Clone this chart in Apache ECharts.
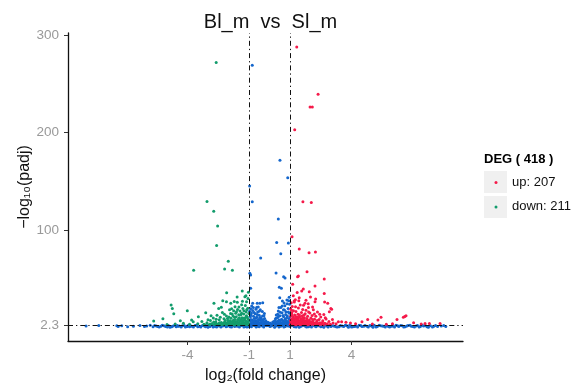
<!DOCTYPE html>
<html><head><meta charset="utf-8">
<script src="https://cdn.jsdelivr.net/npm/echarts@6/dist/echarts.min.js"></script>
<style>html,body{margin:0;padding:0;background:#fff}#c{width:572px;height:383px}</style>
</head><body><div id="c"></div>
<script>
const titleText = 'Bl_m  vs  Sl_m';
const xName = 'log₂(fold change)';
const yName = '−log₁₀(padj)';
const xTicks = [-4, -1, 1, 4];
const yTicks = [2.3, 100, 200, 300];
const fcCut = [-1, 1];
const padjCut = 2.3;
const legendTitle = 'DEG ( 418 )';
const upLabel = 'up: 207';
const downLabel = 'down: 211';

const upPoints = [
[1.33,288],[1.23,203],[2.37,239.5],[1.98,226.4],[2.09,226.4],[1.02,303],[1.12,303],[1.40,303],[2.14,303],
[1.63,128.9],[2.04,128.3],[1.10,93],[1.45,80.3],[1.93,76.5],[2.24,77.2],[1.83,57],[1.37,51.9],[1.41,52.6],
[2.67,49.5],[1.13,44.1],[2.22,42.3],[1.65,39.3],[1.94,36.5],[2.67,34.8],[1.45,30.3],[2.25,29],[2.69,25.9],
[2.99,19.4],[2.92,16],[1.21,25.9],[1.20,26.9],[1.73,24.6],[2.22,26.2],[2.84,24.6],[3.03,18.4],[3.07,8.1],[3.52,5.7],[1.57,37.2],
[4.79,8.1],[4.51,5.7],[5.29,7.4],[5.44,10.2],[6.22,8.1],[6.53,10.2],[6.66,11.9],[6.60,11],[7.03,4.7],[7.59,4],[8.32,4],
[3.36,5.7],[3.73,5.1],[5.02,3.3],[4.2,3.6],[3.95,4.5],[5.7,3.2],[6.0,3.5],[7.4,3.4],[7.8,3.8],
[1.02,3.1],[1.05,5.4],[1.07,8.2],[1.04,11.5],[1.09,14.8],[1.03,18.9],[1.12,3.8],[1.14,6.9],[1.16,10.3],[1.18,4.6],
[1.11,21.4],[1.21,7.8],[1.23,12.6],[1.25,3.4],[1.27,5.9],[1.29,16.2],[1.31,9.1],[1.33,2.9],[1.35,4.8],[1.37,7.3],
[1.39,13.4],[1.41,19.8],[1.43,3.6],[1.45,6.1],[1.47,10.8],[1.49,4.2],[1.52,8.6],[1.54,2.8],[1.56,15.1],[1.58,5.3],
[1.6,11.9],[1.62,3.9],[1.64,7.1],[1.66,22.6],[1.68,4.4],[1.7,9.8],[1.72,3.2],[1.74,13.9],[1.76,6.4],[1.78,17.6],
[1.8,4.1],[1.82,8.9],[1.84,3.5],[1.86,11.2],[1.88,5.7],[1.9,20.3],[1.92,3.8],[1.95,7.6],[1.97,14.6],[1.99,4.9],
[2.02,9.4],[2.05,3.3],[2.08,12.1],[2.11,6.2],[2.14,18.1],[2.17,4.3],[2.2,8.2],[2.23,3.1],[2.26,11.4],[2.3,5.6],
[2.34,15.8],[2.38,3.9],[2.42,7.9],[2.46,4.7],[2.5,10.6],[2.55,3.4],[2.6,6.8],[2.65,13.2],[2.7,4.2],[2.76,8.5],
[2.82,3.6],[2.9,5.9],[2.97,3.2],[3.1,4.4],[3.25,3.7],
[1.01,2.6],[1.08,3.0],[1.13,2.5],[1.19,3.2],[1.24,2.7],[1.3,3.9],[1.36,2.6],[1.42,5.1],[1.48,2.9],[1.53,4.0],
[1.61,2.6],[1.67,3.3],[1.73,2.7],[1.79,6.3],[1.87,2.8],[1.93,4.6],[2.0,2.7],[2.07,5.1],[2.16,2.9],[2.28,3.5],
[2.4,2.7],[2.52,3.1],[2.63,2.6],[2.8,2.9],[1.06,7.1],[1.15,9.4],[1.2,5.3],[1.28,11.1],[1.34,6.7],[1.4,8.8],
[1.46,12.5],[1.55,6.6],[1.63,9.9],[1.71,6.9],[1.06,25.2],[1.16,32.5],[1.26,28.4],[1.5,22.9],[1.89,24.1],[2.0,31.2],
[1.35,35.8],[1.78,27.8],
[1.03,6.5],[1.07,4.3],[1.1,12.4],[1.14,2.7],[1.17,16.9],[1.22,3.6],[1.26,8.7],[1.32,5.0],[1.38,10.2],[1.44,3.0],
[1.5,6.0],[1.57,2.8],[1.59,9.0],[1.65,5.2],[1.69,12.7],[1.75,4.8],[1.83,2.6],[1.85,7.0],[1.91,15.8],[1.96,5.6],
[2.03,3.9],[2.1,8.0],[2.19,13.6],[2.25,4.1],[2.33,7.0],[2.45,13.4],[2.58,4.9],[2.72,9.9],[1.08,17.5],[1.27,21.0],
[1.43,27.3],[1.62,18.3],[2.1,20.8]
];

const downPoints = [
[-2.60,272],[-3.63,303],[-2.79,303],[-3.05,129.3],[-2.72,119.3],[-2.53,104],[-2.58,84.1],[-2.01,67.7],[-3.70,58.5],
[-2.19,59.8],[-1.81,58.5],[-2.09,35.5],[-1.33,37.2],[-1.15,32.4],[-1.03,35.9],[-1.2,31.4],[-4.80,22.8],[-4.74,19.4],
[-4.67,13.9],[-4.01,17],[-5.2,8.8],[-5.65,6.4],[-4.35,6.7],[-3.80,7.4],[-3.72,5.6],[-3.47,10.8],[-2.71,24.6],
[-3.11,14.9],[-2.48,19.4],[-2.28,27.2],[-2.1,26.2],[-1.89,24.6],[-1.72,26.6],[-1.57,25.6],[-1.36,23.1],[-1.12,26.1],[-1.05,29.5],
[-3.2,3.1],[-3.05,4.6],[-2.95,2.7],[-2.88,6.9],[-2.8,3.8],[-2.74,9.6],[-2.68,2.9],[-2.62,5.3],[-2.56,12.4],[-2.5,3.5],
[-2.45,7.7],[-2.4,2.6],[-2.35,4.9],[-2.3,15.3],[-2.26,3.2],[-2.22,8.8],[-2.18,5.6],[-2.14,2.8],[-2.1,11.7],[-2.06,4.1],
[-2.02,6.9],[-1.98,3.0],[-1.95,17.9],[-1.92,5.1],[-1.88,9.3],[-1.85,2.7],[-1.82,13.6],[-1.79,4.3],[-1.76,7.2],[-1.73,3.4],
[-1.7,10.4],[-1.67,5.8],[-1.64,2.6],[-1.61,15.9],[-1.58,3.9],[-1.55,8.1],[-1.52,4.6],[-1.49,20.7],[-1.46,2.9],[-1.43,6.4],
[-1.4,12.8],[-1.37,3.6],[-1.34,9.7],[-1.31,5.2],[-1.28,2.7],[-1.25,17.1],[-1.22,4.4],[-1.19,7.6],[-1.16,3.1],[-1.13,11.9],
[-1.1,5.5],[-1.07,2.8],[-1.04,8.6],[-1.02,4.0],[-1.01,14.2],[-1.06,19.5],[-1.18,22.4],[-1.3,19.2],[-1.5,12.9],[-1.62,10.9],
[-1.78,11.6],[-1.9,14.1],[-2.05,8.9],[-2.2,13.3],[-2.4,10.2],[-2.6,8.3],[-2.85,11.8],[-3.0,7.8],[-3.3,5.9],[-3.5,3.6],
[-3.9,3.2],[-4.2,4.1],[-4.6,3.3],[-5.0,2.9],[-1.09,3.6],[-1.15,6.1],[-1.21,2.6],[-1.27,4.9],[-1.33,3.3],[-1.39,7.9],
[-1.45,4.1],[-1.53,2.6],[-1.59,5.9],[-1.66,3.6],[-1.74,5.4],[-1.83,3.1],[-1.93,6.7],[-2.0,2.6],[-2.12,3.8],[-2.28,2.9],
[-2.44,4.6],[-2.58,3.1],[-2.72,5.5],[-1.03,6.3],[-1.08,10.6],[-1.14,15.6],[-1.24,9.4],[-1.36,14.3],[-1.47,9.8],[-1.56,18.3],
[-1.68,21.2],[-1.85,19.1],[-2.35,20.6],
[-1.05,2.5],[-1.12,4.7],[-1.17,9.9],[-1.23,3.0],[-1.29,7.1],[-1.35,5.9],[-1.41,2.5],[-1.48,7.0],[-1.54,3.5],[-1.6,2.7],
[-1.69,7.9],[-1.75,2.5],[-1.81,6.1],[-1.87,4.6],[-1.96,3.9],[-2.03,5.3],[-2.16,7.0],[-2.24,4.4],[-2.33,3.3],[-2.48,2.6],
[-2.65,4.2],[-2.9,3.4],[-3.15,2.6],[-1.11,18.1],[-1.26,13.7],[-1.44,16.6],[-1.65,14.4],[-1.98,10.6],[-1.32,26.8],[-1.58,31.0],
[-1.75,17.0]
];

const nsPoints = [
[-0.84,269.2],[0.51,171.7],[0.89,153.5],[-0.97,145],[-0.84,128.9],[0.43,111.1],[0.35,87.2],[0.55,75.5],[-0.43,71.1],
[0.92,86.5],[0.32,55.7],[0.69,51.9],[0.76,50.5],[0.48,41],[0.58,40],[0.5,30.3],[0.63,26.9],[0.85,28],[0.75,22],
[-0.82,24.6],[-0.6,24.6],[-0.47,24.6],[-0.33,25.2],[-0.62,20.5],[-0.74,303],[-0.53,303],[-0.92,40],[-0.96,55.5],[-0.92,53.6],
[-0.98,3.2],[-0.95,6.8],[-0.93,10.9],[-0.9,4.1],[-0.88,14.6],[-0.86,2.8],[-0.84,7.5],[-0.82,17.2],[-0.8,4.9],[-0.78,11.3],
[-0.76,3.3],[-0.74,8.9],[-0.72,5.6],[-0.7,13.8],[-0.68,2.7],[-0.66,6.9],[-0.64,4.1],[-0.62,10.2],[-0.6,3.2],[-0.58,15.7],
[-0.56,5.4],[-0.54,8.1],[-0.52,2.9],[-0.5,12.4],[-0.48,4.6],[-0.46,7.2],[-0.44,3.5],[-0.42,9.7],[-0.4,5.1],[-0.38,2.8],
[-0.36,6.3],[-0.34,11.6],[-0.32,3.9],[-0.3,7.7],[-0.28,4.4],[-0.26,2.6],[-0.24,9.1],[-0.22,5.3],[-0.2,3.4],[-0.18,6.7],
[-0.15,4.1],[-0.12,2.9],[-0.08,5.2],[-0.04,3.3],[0.02,4.4],[0.08,2.8],[0.12,3.7],[0.16,5.5],[0.2,3.1],[0.24,6.4],
[-0.97,16.4],[-0.92,19.1],[-0.87,21.8],[-0.79,20.3],[-0.66,18.6],[-0.55,20.9],[-0.45,18.1],[-0.35,16.3],[-0.25,14.2],
[0.27,4.3],[0.29,8.8],[0.31,2.9],[0.33,12.7],[0.35,5.6],[0.37,3.4],[0.39,9.9],[0.41,6.3],[0.43,16.6],[0.45,3.9],
[0.47,7.4],[0.49,2.7],[0.51,11.8],[0.53,5.1],[0.55,20.4],[0.57,3.6],[0.59,8.3],[0.61,14.9],[0.63,4.7],[0.65,6.9],
[0.67,2.9],[0.69,10.7],[0.71,5.9],[0.73,17.8],[0.75,3.8],[0.77,8.5],[0.79,13.1],[0.81,4.5],[0.83,6.8],[0.85,2.8],
[0.87,11.5],[0.89,5.2],[0.91,19.3],[0.93,3.5],[0.95,8.7],[0.97,14.3],[0.99,4.2],[0.98,23.6],[0.96,30.9],[0.94,27.2],
[0.86,24.1],[0.71,24.9],[0.62,21.8],[0.46,20.2],[0.4,13.4],
[-0.96,2.5],[-0.91,7.9],[-0.85,5.1],[-0.77,6.4],[-0.71,2.6],[-0.65,9.7],[-0.59,6.0],[-0.53,4.0],[-0.47,10.1],[-0.41,3.0],
[-0.37,8.0],[-0.31,5.4],[-0.27,11.9],[-0.21,2.6],[-0.17,4.8],[-0.1,3.8],[0.05,3.2],[0.28,6.2],[0.34,9.6],[0.38,4.9],
[0.44,11.0],[0.5,4.4],[0.56,7.1],[0.6,2.6],[0.66,12.2],[0.72,3.2],[0.78,6.2],[0.84,9.7],[0.9,3.0],[0.96,6.2],
[0.99,10.6],[0.92,15.6],[0.8,16.0],[0.68,17.9],[0.52,15.4],[-0.9,12.6],[-0.75,15.3],[-0.6,13.0],[-0.5,16.4]
];

const nsBand = [
[-8.95,1.2],[-8.33,1.8],[-7.45,1.5],[-7.38,0.9],[-7.21,1.6],[-6.92,0.6],[-6.64,1.1],[-6.32,1.9],[-6.1,0.8],[-5.99,1.4],
[-5.82,2.0],[-5.68,0.5],[-5.52,1.3],[-5.38,0.4],[-5.23,2.0],[-5.07,0.9],[-4.93,1.7],[-4.77,0.5],[-4.62,2.2],[-4.46,1.1],
[-4.31,0.2],[-4.16,1.9],[-4.02,0.7],[-3.86,1.5],[-3.71,0.3],[-3.57,2.1],[-3.41,1.0],[-3.27,1.8],[-3.12,0.5],[-2.96,1.3],
[-2.81,2.2],[-2.66,0.8],[-2.52,1.6],[-2.37,0.3],[-2.21,1.9],[-2.06,1.1],[-1.92,0.6],[-1.77,2.1],[-1.61,1.4],[-1.47,0.2],
[-1.32,1.8],[-1.17,0.9],[-1.03,2.2],[-0.88,0.5],[-0.73,1.6],[-0.57,1.0],[-0.42,2.0],[-0.28,0.4],[-0.13,1.5],[0.02,0.8],
[0.17,2.1],[0.31,1.2],[0.46,0.3],[0.62,1.9],[0.77,0.7],[0.91,1.4],[1.06,2.2],[1.21,0.5],[1.37,1.7],[1.52,0.9],
[1.66,2.0],[1.81,0.3],[1.97,1.3],[2.12,2.1],[2.27,0.6],[2.41,1.6],[2.56,1.0],[2.72,2.2],[2.86,0.4],[3.01,1.8],
[3.17,1.1],[3.31,0.2],[3.46,1.9],[3.62,0.8],[3.77,1.5],[3.91,2.1],[4.06,0.5],[4.22,1.3],[4.37,2.0],[4.51,0.9],
[4.66,1.7],[4.82,0.3],[4.97,1.2],[5.11,2.2],[5.26,0.7],[5.42,1.6],[5.57,1.0],[5.71,1.9],[5.86,0.4],[6.02,1.4],
[6.17,2.1],[6.31,0.8],[6.47,1.5],[6.62,0.6],[6.76,1.8],[6.92,1.1],[7.07,0.3],[7.22,1.7],[7.36,0.9],[7.52,1.3],
[7.68,0.5],[7.85,1.6],[8.02,1.0],[8.2,0.7],[8.38,1.2],[8.6,0.9],
[-4.85,0.1],[-4.4,1.4],[-3.95,2.2],[-3.5,0.6],[-3.05,1.9],[-2.75,0.2],[-2.45,1.2],[-2.15,2.2],[-1.85,0.3],[-1.55,1.1],
[-1.25,0.4],[-0.95,1.3],[-0.65,0.2],[-0.35,1.2],[-0.05,2.2],[0.25,0.1],[0.55,1.1],[0.85,2.2],[1.15,1.5],[1.45,0.1],
[1.75,1.1],[2.05,0.2],[2.35,1.5],[2.65,0.1],[2.95,2.2],[3.25,0.6],[3.55,1.2],[3.85,0.1],[4.15,0.7],[4.45,1.8],
[4.75,1.1],[5.05,0.1],[5.35,2.1],[5.65,0.2],[5.95,1.1],[6.25,1.5],[6.55,0.2],[6.85,2.1],[7.15,1.2],[7.45,2.0],
[7.75,0.1],[8.1,1.9],
[-5.45,0.8],[-5.15,1.5],[-4.98,0.3],[-4.7,1.2],[-4.55,0.6],[-4.25,1.6],[-4.1,0.4],[-3.8,1.0],[-3.63,1.8],[-3.35,0.2],
[-3.18,1.4],[-2.9,0.7],[-2.7,1.9],[-2.58,0.4],[-2.28,1.3],[-2.12,0.5],[-1.98,1.7],[-1.7,0.8],[-1.4,1.5],[-1.1,0.3],
[-0.8,2.0],[-0.5,0.6],[-0.2,1.7],[0.1,1.3],[0.4,1.8],[0.7,0.4],[1.0,0.9],[1.3,0.3],[1.6,1.5],[1.9,0.6],
[2.2,1.4],[2.5,0.5],[2.8,1.2],[3.1,1.6],[3.4,0.5],[3.7,2.0],[4.0,1.4],[4.3,0.4],[4.6,1.1],[4.9,1.9],
[5.2,0.4],[5.5,1.3],[5.8,0.8],[6.1,0.2],[6.4,1.9],[6.7,1.2],[7.0,0.8],[7.3,0.4],[7.6,1.9],[7.95,0.4],
[8.5,1.7],[-3.0,0.1],[-2.0,2.2],[-1.0,0.6],[0.0,1.9],[2.0,1.8],[3.0,0.9],[4.0,0.2],[5.0,1.6],[6.0,2.0],
[-4.0,1.2],[-3.9,0.5],[-4.5,1.9],[-5.3,1.0],[-5.6,1.8]
];

const colors = { up: '#f51a4a', down: '#129c6c', ns: '#1466cc' };
const FONT = 'Liberation Sans, Arial, Helvetica, sans-serif';

const chart = echarts.init(document.getElementById('c'), null, { renderer: 'canvas' });
const dot = (name, data, color) => ({
  name, type: 'scatter', data, symbolSize: 3, clip: true, animation: false,
  itemStyle: { color, opacity: 1 }, emphasis: { disabled: true }
});

chart.setOption({
  backgroundColor: '#fff',
  animation: false,
  title: {
    text: titleText, left: 265.5, textAlign: 'center', top: 7,
    textStyle: { fontFamily: FONT, fontSize: 20, fontWeight: 'normal', color: '#111' }
  },
  grid: { left: 68, right: 109, top: 33, bottom: 42, containLabel: false, outerBoundsMode: 'none' },
  xAxis: {
    type: 'value', min: -9.83, max: 9.44,
    name: xName, nameLocation: 'middle', nameGap: 27, nameMoveOverlap: false,
    nameTextStyle: { fontFamily: FONT, fontSize: 16, color: '#111' },
    axisLine: { show: true, onZero: false, lineStyle: { color: '#111', width: 1.3 } },
    axisTick: { show: true, customValues: xTicks, length: 4, lineStyle: { color: '#333', width: 1 } },
    axisLabel: { show: true, customValues: xTicks, fontFamily: FONT, fontSize: 13.5, color: '#999', margin: 7 },
    splitLine: { show: false }
  },
  yAxis: {
    type: 'value', min: -14.1, max: 302.3,
    name: yName, nameLocation: 'middle', nameGap: 35, nameMoveOverlap: false,
    nameTextStyle: { fontFamily: FONT, fontSize: 16, color: '#111' },
    axisLine: { show: true, onZero: false, lineStyle: { color: '#111', width: 1.3 } },
    axisTick: { show: true, customValues: yTicks, length: 4, lineStyle: { color: '#333', width: 1 } },
    axisLabel: { show: true, customValues: yTicks, fontFamily: FONT, fontSize: 13.5, color: '#999', margin: 9 },
    splitLine: { show: false }
  },
  series: [
    dot('ns', nsBand, colors.ns),
    dot('ns2', nsPoints, colors.ns),
    dot('down', downPoints, colors.down),
    dot('up', upPoints, colors.up),
    {
      type: 'scatter', data: [], silent: true, z: 5,
      markLine: {
        silent: true, symbol: 'none', animation: false,
        label: { show: false },
        lineStyle: { color: '#111', width: 1, type: [5, 3, 1.3, 3] },
        data: [{ xAxis: fcCut[0] }, { xAxis: fcCut[1] }, { yAxis: padjCut }]
      }
    }
  ],
  graphic: [
    { type: 'text', left: 484, top: 153, style: { text: legendTitle, font: 'bold 13px ' + FONT, fill: '#000' } },
    { type: 'rect', shape: { x: 484, y: 171, width: 23, height: 22 }, style: { fill: '#f0f0f0' } },
    { type: 'rect', shape: { x: 484, y: 196, width: 23, height: 22 }, style: { fill: '#f0f0f0' } },
    { type: 'circle', shape: { cx: 496, cy: 182.5, r: 1.5 }, style: { fill: colors.up } },
    { type: 'circle', shape: { cx: 496, cy: 207, r: 1.5 }, style: { fill: colors.down } },
    { type: 'text', left: 512, top: 175.5, style: { text: upLabel, font: '13px ' + FONT, fill: '#111' } },
    { type: 'text', left: 512, top: 200, style: { text: downLabel, font: '13px ' + FONT, fill: '#111' } }
  ]
});
</script>
</body></html>
